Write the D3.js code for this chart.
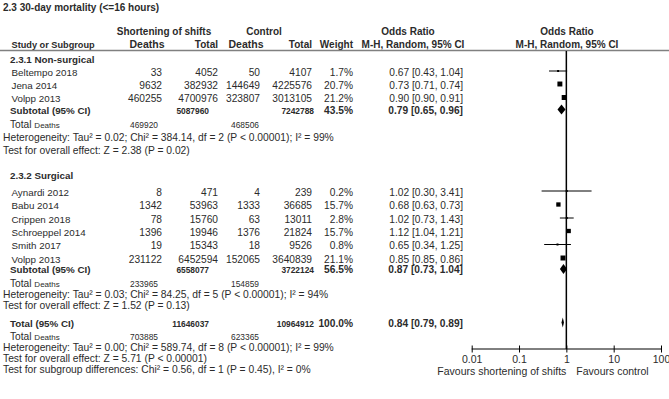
<!DOCTYPE html>
<html>
<head>
<meta charset="utf-8">
<script src="https://cdn.jsdelivr.net/npm/d3@7"></script>
<style>
  html, body { margin: 0; padding: 0; background: #fff; }
  svg { display: block; font-family: "Liberation Sans", Arial, sans-serif; }
</style>
</head>
<body>
<div id="chart"></div>
<script>
// ---- data ----
const title = "2.3 30-day mortality (<=16 hours)";

const nsStudies   = ["Beltempo 2018", "Jena 2014", "Volpp 2013"];
const nsExpDeaths = [33, 9632, 460255];
const nsExpTotal  = [4052, 382932, 4700976];
const nsCtlDeaths = [50, 144649, 323807];
const nsCtlTotal  = [4107, 4225576, 3013105];
const nsWeight    = [1.7, 20.7, 21.2];
const nsOR        = [0.67, 0.73, 0.90];
const nsLo        = [0.43, 0.71, 0.90];
const nsHi        = [1.04, 0.74, 0.91];

const sgStudies   = ["Aynardi 2012", "Babu 2014", "Crippen 2018", "Schroeppel 2014", "Smith 2017", "Volpp 2013"];
const sgExpDeaths = [8, 1342, 78, 1396, 19, 231122];
const sgExpTotal  = [471, 53963, 15760, 19946, 15343, 6452594];
const sgCtlDeaths = [4, 1333, 63, 1376, 18, 152065];
const sgCtlTotal  = [239, 36685, 13011, 21824, 9526, 3640839];
const sgWeight    = [0.2, 15.7, 2.8, 15.7, 0.8, 21.1];
const sgOR        = [1.02, 0.68, 1.02, 1.12, 0.65, 0.85];
const sgLo        = [0.30, 0.63, 0.73, 1.04, 0.34, 0.85];
const sgHi        = [3.41, 0.73, 1.43, 1.21, 1.25, 0.86];

// subtotal / total: [expTotal, ctlTotal, weight, OR, lo, hi, expDeaths, ctlDeaths]
const nsSubtotal = [5087960, 7242788, 43.5, 0.79, 0.65, 0.96, 469920, 468506];
const sgSubtotal = [6558077, 3722124, 56.5, 0.87, 0.73, 1.04, 233965, 154859];
const overall    = [11646037, 10964912, 100.0, 0.84, 0.79, 0.89, 703885, 623365];

const nsHetero = "Heterogeneity: Tau² = 0.02; Chi² = 384.14, df = 2 (P < 0.00001); I² = 99%";
const nsEffect = "Test for overall effect: Z = 2.38 (P = 0.02)";
const sgHetero = "Heterogeneity: Tau² = 0.03; Chi² = 84.25, df = 5 (P < 0.00001); I² = 94%";
const sgEffect = "Test for overall effect: Z = 1.52 (P = 0.13)";
const allHetero = "Heterogeneity: Tau² = 0.00; Chi² = 589.74, df = 8 (P < 0.00001); I² = 99%";
const allEffect = "Test for overall effect: Z = 5.71 (P < 0.00001)";
const subgroupTest = "Test for subgroup differences: Chi² = 0.56, df = 1 (P = 0.45), I² = 0%";

const axisTicks = [0.01, 0.1, 1, 10, 100];
const axisTickLabels = ["0.01", "0.1", "1", "10", "100"];
const favoursLeft = "Favours shortening of shifts";
const favoursRight = "Favours control";

// ---- layout ----
const width = 669, height = 399;
const size = { name: 9.8, label: 9.8, num: 10.2, small: 8.4, note: 10.3, head: 10, axis: 10.5 };
const col = { name: 11.5, expD: 162, expT: 218, ctlD: 260, ctlT: 312, w: 353, or: 463 };
const ink = "#2b2b2b";

const x = d3.scaleLog().domain([0.01, 100]).range([471.7, 661]);
const boxSize = d3.scaleSqrt().domain([0, 21.2]).range([0, 5]);
const f2 = d3.format(".2f"), f1 = d3.format(".1f");

const svg = d3.select("#chart").append("svg")
    .attr("width", width)
    .attr("height", height);

function txt(xp, y, s, anchor, bold, sz) {
    return svg.append("text")
        .attr("x", xp).attr("y", y + 3.5)
        .attr("text-anchor", anchor || "start")
        .attr("font-size", sz || size.name)
        .attr("font-weight", bold ? "bold" : "normal")
        .attr("fill", ink)
        .text(s);
}

function orLabel(o, l, h) {
    return f2(o) + " [" + f2(l) + ", " + f2(h) + "]";
}

// title and headers
txt(3, 7, title, "start", true, 10);
txt(164, 31, "Shortening of shifts", "middle", true, size.head);
txt(264, 31, "Control", "middle", true, size.head);
txt(408, 31, "Odds Ratio", "middle", true, size.head);
txt(567, 31, "Odds Ratio", "middle", true, size.head);
txt(col.name, 44, "Study or Subgroup", "start", true, 9.2);
txt(147, 44, "Deaths", "middle", true, 10.5);
txt(col.expT, 44, "Total", "end", true, size.head);
txt(246, 44, "Deaths", "middle", true, 10.5);
txt(col.ctlT, 44, "Total", "end", true, size.head);
txt(col.w, 44, "Weight", "end", true, size.head);
txt(413, 44, "M-H, Random, 95% CI", "middle", true, size.head);
txt(567, 44, "M-H, Random, 95% CI", "middle", true, size.head);

svg.append("line")
    .attr("x1", 0).attr("x2", width)
    .attr("y1", 50.5).attr("y2", 50.5)
    .attr("stroke", "#808080").attr("stroke-width", 1.6);

// zero-effect line
svg.append("line")
    .attr("x1", x(1)).attr("x2", x(1))
    .attr("y1", 51).attr("y2", 349)
    .attr("stroke", "#000").attr("stroke-width", 1.5);

function studyRows(ys, names, eD, eT, cD, cT, w, o, lo, hi) {
    names.forEach((n, i) => {
        const y = ys[i];
        txt(col.name, y, n);
        txt(col.expD, y, eD[i], "end", false, size.num);
        txt(col.expT, y, eT[i], "end", false, size.num);
        txt(col.ctlD, y, cD[i], "end", false, size.num);
        txt(col.ctlT, y, cT[i], "end", false, size.num);
        txt(col.w, y, f1(w[i]) + "%", "end", false, size.num);
        txt(col.or, y, orLabel(o[i], lo[i], hi[i]), "end", false, size.num);
        const my = y - 1;
        svg.append("line")
            .attr("x1", x(lo[i])).attr("x2", x(hi[i]))
            .attr("y1", my).attr("y2", my)
            .attr("stroke", "#000").attr("stroke-width", 1);
        const s = Math.max(2, boxSize(w[i]));
        svg.append("rect")
            .attr("x", x(o[i]) - s / 2).attr("y", my - s / 2)
            .attr("width", s).attr("height", s)
            .attr("fill", "#000");
    });
}

function diamond(y, o, lo, hi) {
    const my = y - 0.5, hh = 5;
    svg.append("path")
        .attr("d", "M" + x(lo) + "," + my + "L" + x(o) + "," + (my - hh) +
            "L" + x(hi) + "," + my + "L" + x(o) + "," + (my + hh) + "Z")
        .attr("fill", "#000");
}

function summaryRow(y, label, d) {
    txt(col.name - 1.5, y, label, "start", true, size.label);
    txt(209, y, d[0], "end", true, size.small);
    txt(314, y, d[1], "end", true, size.small);
    txt(col.w, y, f1(d[2]) + "%", "end", true, size.num);
    txt(col.or, y, orLabel(d[3], d[4], d[5]), "end", true, size.num);
    diamond(y, d[3], d[4], d[5]);
}

function deathsRow(y, d) {
    const t = txt(col.name - 1.5, y, "", "start", false, size.num);
    t.append("tspan").text("Total ");
    t.append("tspan").attr("font-size", 8).text("Deaths");
    txt(130, y, d[6], "start", false, size.small);
    txt(231, y, d[7], "start", false, size.small);
}

// non-surgical
txt(col.name - 1.5, 59, "2.3.1 Non-surgical", "start", true, size.label);
studyRows([72, 85, 98.5], nsStudies, nsExpDeaths, nsExpTotal, nsCtlDeaths, nsCtlTotal, nsWeight, nsOR, nsLo, nsHi);
summaryRow(110, "Subtotal (95% CI)", nsSubtotal);
deathsRow(124, nsSubtotal);
txt(3, 137.5, nsHetero, "start", false, size.note);
txt(3, 150, nsEffect, "start", false, size.note);

// surgical
txt(col.name - 1.5, 175, "2.3.2 Surgical", "start", true, size.label);
studyRows([192, 205.5, 219, 232, 245.5, 259], sgStudies, sgExpDeaths, sgExpTotal, sgCtlDeaths, sgCtlTotal, sgWeight, sgOR, sgLo, sgHi);
summaryRow(269.5, "Subtotal (95% CI)", sgSubtotal);
deathsRow(283, sgSubtotal);
txt(3, 294.5, sgHetero, "start", false, size.note);
txt(3, 305.5, sgEffect, "start", false, size.note);

// overall
summaryRow(323, "Total (95% CI)", overall);
deathsRow(336, overall);
txt(3, 347, allHetero, "start", false, size.note);
txt(3, 358, allEffect, "start", false, size.note);
txt(3, 369, subgroupTest, "start", false, size.note);

// axis
const axis = d3.axisBottom(x)
    .tickValues(axisTicks)
    .tickFormat((d, i) => axisTickLabels[i])
    .tickSize(3.5)
    .tickPadding(3);
const ax = svg.append("g")
    .attr("transform", "translate(0,349)")
    .call(axis);
ax.select(".domain").attr("stroke", "#000").attr("d", "M" + x(0.01) + ",0H" + x(100));
ax.selectAll(".tick line").attr("y1", -3.5).attr("stroke", "#000");
ax.selectAll(".tick text")
    .attr("font-family", "Liberation Sans, Arial, sans-serif")
    .attr("font-size", size.axis)
    .attr("fill", ink);

txt(x(1), 371, favoursLeft, "end", false, size.axis);
txt(x(1) + 10, 371, favoursRight, "start", false, size.axis);
</script>
</body>
</html>
